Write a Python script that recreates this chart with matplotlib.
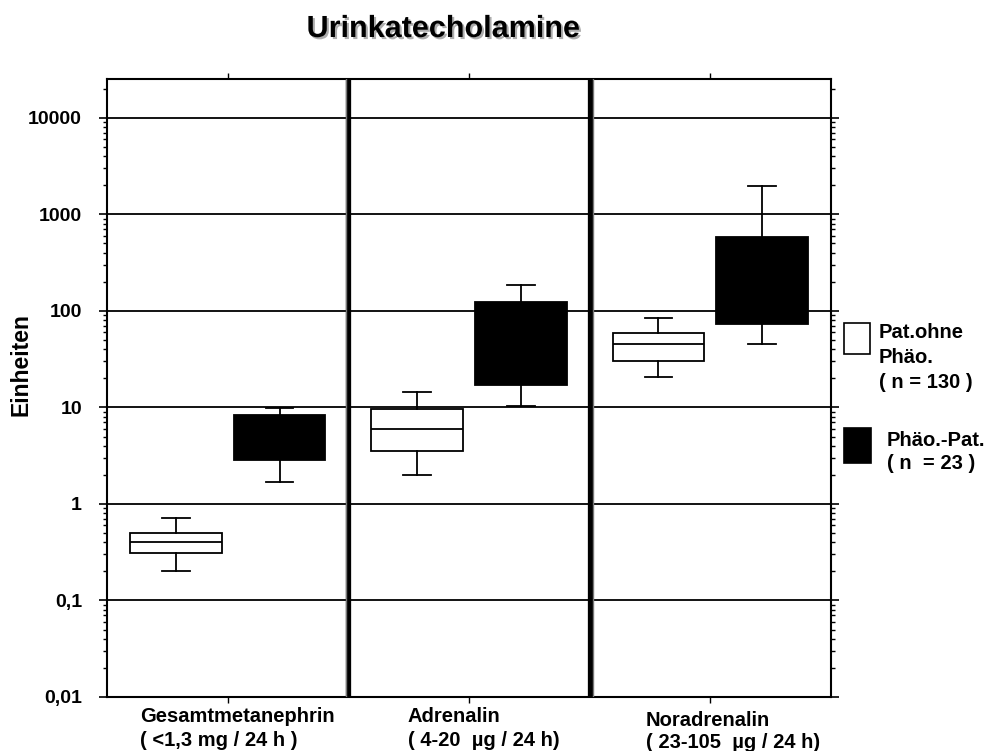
import matplotlib
matplotlib.use("Agg")
import matplotlib.pyplot as plt
import matplotlib.patheffects as pe
from matplotlib.ticker import FixedLocator, LogLocator, NullFormatter
from matplotlib.patches import Rectangle

plt.rcParams['font.family'] = ['Liberation Sans', 'DejaVu Sans']

# ---- data ----
categories = ["Gesamtmetanephrin", "Adrenalin", "Noradrenalin"]
ranges = ["( <1,3 mg / 24 h )", "( 4-20  µg / 24 h)", "( 23-105  µg / 24 h)"]
# [whislo, q1, med, q3, whishi]
ohne_phaeo = [
    [0.20, 0.31, 0.40, 0.50, 0.71],
    [2.0, 3.5, 6.0, 9.7, 14.4],
    [20.6, 30.4, 45.6, 59.0, 84.0],
]
phaeo_pat = [
    [1.70, 2.87, 4.35, 8.4, 9.8],
    [10.3, 17.0, 60.0, 125.0, 184.0],
    [45.6, 73.0, 200.0, 577.0, 1950.0],
]
ytick_vals = [0.01, 0.1, 1, 10, 100, 1000, 10000]
ytick_labels = ["0,01", "0,1", "1", "10", "100", "1000", "10000"]
legend_labels = ["Pat.ohne\nPhäo.\n( n = 130 )", "Phäo.-Pat.\n( n  = 23 )"]
title = "Urinkatecholamine"
ylabel = "Einheiten"

W, H = 991, 751
fig = plt.figure(figsize=(W / 100, H / 100), dpi=100)
ax = fig.add_axes([107 / W, (H - 697) / H, (831 - 107) / W, (697 - 79) / H])
ax.set_yscale('log')
ax.set_ylim(0.01, 25300)
ax.set_xlim(0, 3)

def stats(v):
    return dict(whislo=v[0], q1=v[1], med=v[2], q3=v[3], whishi=v[4], fliers=[])

centers = [0.5, 1.5, 2.5]
off = 0.215
bw = 0.38
lw = 1.3
ax.bxp([stats(v) for v in ohne_phaeo], positions=[c - off for c in centers],
       widths=bw, patch_artist=True, showfliers=False, manage_ticks=False,
       boxprops=dict(facecolor='white', edgecolor='black', linewidth=lw),
       medianprops=dict(color='black', linewidth=lw),
       whiskerprops=dict(color='black', linewidth=lw),
       capprops=dict(color='black', linewidth=lw), capwidths=0.115, zorder=3)
ax.bxp([stats(v) for v in phaeo_pat], positions=[c + off for c in centers],
       widths=bw, patch_artist=True, showfliers=False, manage_ticks=False,
       boxprops=dict(facecolor='black', edgecolor='black', linewidth=lw),
       medianprops=dict(color='black', linewidth=lw),
       whiskerprops=dict(color='black', linewidth=lw),
       capprops=dict(color='black', linewidth=lw), capwidths=0.115, zorder=3)

# gridlines
for v in ytick_vals[1:]:
    ax.axhline(v, color='black', linewidth=1.3, zorder=1)

# dividers
for xd in [1, 2]:
    ax.axvline(xd, color='black', linewidth=3.8, zorder=4)
ax.axvline(1 - 0.009, color='#777777', linewidth=1.0, zorder=4)
ax.axvline(2 + 0.013, color='#777777', linewidth=1.0, zorder=4)

# ticks
ax.yaxis.set_major_locator(FixedLocator(ytick_vals))
ax.set_yticklabels(ytick_labels, fontsize=14, fontweight='bold')
ax.yaxis.set_minor_locator(LogLocator(base=10, subs=range(2, 10)))
ax.yaxis.set_minor_formatter(NullFormatter())
ax.tick_params(axis='y', which='major', direction='out', length=6, width=1.2,
               left=True, right=True, pad=12)
ax.tick_params(axis='y', which='minor', direction='out', length=3, width=1.0,
               left=True, right=True)
ax.set_xticks(centers)
ax.set_xticklabels([])
ax.tick_params(axis='x', which='major', direction='out', length=4, width=1.0,
               top=True, bottom=True)
for s in ax.spines.values():
    s.set_linewidth(1.5)

# x category labels
xl = [140, 408, 646]
y1 = [717, 717, 720]
y2 = [740, 740, 742]
for i in range(3):
    fig.text(xl[i] / W, 1 - y1[i] / H, categories[i], fontsize=14.5, fontweight='bold',
             ha='left', va='center')
    fig.text(xl[i] / W, 1 - y2[i] / H, ranges[i], fontsize=14.5, fontweight='bold',
             ha='left', va='center')

# y label
fig.text(21 / W, 1 - 365 / H, ylabel, rotation=90, fontsize=16.5, fontweight='bold',
         ha='center', va='center')

# title
fig.text(443 / W, 1 - 29 / H, title, fontsize=22, fontweight='bold', ha='center',
         va='center',
         path_effects=[pe.withSimplePatchShadow(offset=(1.5, -1.5), shadow_rgbFace='#999999', alpha=0.8)])

# legend
fig.patches.append(Rectangle((844 / W, 1 - 354 / H), 26 / W, 31 / H, transform=fig.transFigure,
                             facecolor='white', edgecolor='black', linewidth=1.2))
fig.patches.append(Rectangle((844 / W, 1 - 463 / H), 27 / W, 35 / H, transform=fig.transFigure,
                             facecolor='black', edgecolor='black', linewidth=1.2))
fig.text(879 / W, 1 - 358 / H, legend_labels[0], fontsize=14.5, fontweight='bold',
         ha='left', va='center', linespacing=1.4)
fig.text(887 / W, 1 - 452 / H, legend_labels[1], fontsize=14.5, fontweight='bold',
         ha='left', va='center', linespacing=1.3)

fig.savefig("out.png", dpi=100)
